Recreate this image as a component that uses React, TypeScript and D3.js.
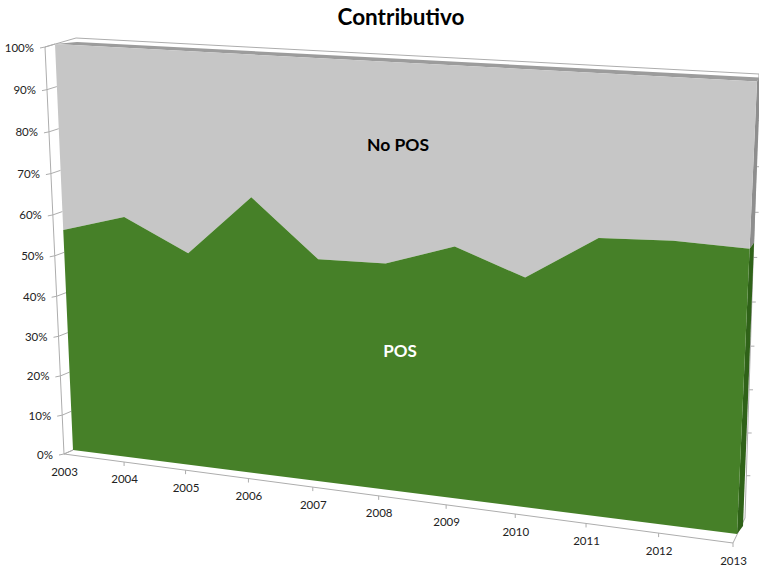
import React from "react";
import * as d3 from "d3";

const years = ["2003", "2004", "2005", "2006", "2007", "2008", "2009", "2010", "2011", "2012", "2013"];
const posShare = [55.5, 59.9, 52.5, 67.1, 53.8, 54.2, 59.5, 53.8, 64.1, 64.8, 64.4];
const percentTicks = [0, 10, 20, 30, 40, 50, 60, 70, 80, 90, 100];

type Pt = [number, number];

// Projective map of the unit square onto a quadrilateral: (0,0), (1,0), (1,1), (0,1).
function quadProjection(p0: Pt, p1: Pt, p2: Pt, p3: Pt) {
  const dx1 = p1[0] - p2[0], dx2 = p3[0] - p2[0], sx = p0[0] - p1[0] + p2[0] - p3[0];
  const dy1 = p1[1] - p2[1], dy2 = p3[1] - p2[1], sy = p0[1] - p1[1] + p2[1] - p3[1];
  const den = dx1 * dy2 - dx2 * dy1;
  const g = (sx * dy2 - dx2 * sy) / den;
  const h = (dx1 * sy - sx * dy1) / den;
  const a = p1[0] - p0[0] + g * p1[0], b = p3[0] - p0[0] + h * p3[0], c = p0[0];
  const d = p1[1] - p0[1] + g * p1[1], e = p3[1] - p0[1] + h * p3[1], f = p0[1];
  return (u: number, v: number): Pt => {
    const w = g * u + h * v + 1;
    return [(a * u + b * v + c) / w, (d * u + e * v + f) / w];
  };
}

// Depth planes of the 3-D box: axis plane, front and back of the area, rear wall.
const axisPlane = quadProjection([64, 454], [733, 543], [752, 87], [45, 47]);
const frontPlane = quadProjection([73, 450], [737, 534], [757, 81.5], [55, 44]);
const backPlane = quadProjection([94, 443], [743, 526], [760.5, 77.5], [77, 42]);
const wallPlane = quadProjection([96, 441], [745, 518], [759, 74], [76, 38]);

const u = d3.scalePoint<string>().domain(years).range([0, 1]);
const v = d3.scaleLinear().domain([0, 100]).range([0, 1]);

const path = d3.line<Pt>().curve(d3.curveLinearClosed);
const open = d3.line<Pt>();
const rows = years.map((y, i) => ({ year: y, u: u(y) as number, v: v(posShare[i]) }));
const lastV = rows[rows.length - 1].v;

const frontBoundary: Pt[] = rows.map((r) => frontPlane(r.u, r.v));

const font = "Lato, 'Open Sans', sans-serif";

export default function App() {
  const axisBase = axisPlane(0, 0);
  const axisEnd = axisPlane(1, 0);
  const axisTop = axisPlane(0, 1);
  return (
    <svg
      width={759}
      height={565}
      viewBox="0 0 759 565"
      style={{ position: "absolute", left: 0, top: 0, background: "#fff" }}
      fontFamily={font}
    >
      {/* walls and floor outline */}
      <g fill="none" stroke="#adadad" strokeWidth={1}>
        <path d={open([axisTop, axisBase, axisEnd])!} />
        <path d={open([axisBase, frontPlane(0, 0)])!} />
        <path d={open([axisEnd, wallPlane(1, 0), wallPlane(1, 1), wallPlane(0, 1), axisTop])!} />
        {percentTicks.map((t) => {
          const p = axisPlane(0, v(t));
          const q: Pt = [p[0] - 5, p[1] + 1];
          return <path key={t} d={open([q, p, frontPlane(0, v(t))])!} />;
        })}
        {percentTicks.slice(1).map((t) => {
          const p = wallPlane(1, v(t));
          return <path key={t} d={open([p, [p[0] + 4, p[1]]])!} />;
        })}
        {rows.slice(1).map((r) => {
          const p = axisPlane(r.u, 0);
          return <path key={r.year} d={open([p, [p[0], p[1] + 4]])!} />;
        })}
      </g>

      {/* top and right sides of the stacked areas */}
      <path d={path([frontPlane(0, 1), frontPlane(1, 1), backPlane(1, 1), backPlane(0, 1)])!} fill="#9c9c9c" />
      <path d={path([frontPlane(1, lastV), frontPlane(1, 1), backPlane(1, 1), backPlane(1, lastV)])!} fill="#8e8e8e" />
      <path d={path([frontPlane(1, 0), frontPlane(1, lastV), backPlane(1, lastV), backPlane(1, 0)])!} fill="#2f6218" />

      {/* front faces */}
      <path d={path([frontPlane(0, 1), frontPlane(1, 1), ...[...frontBoundary].reverse()])!} fill="#c6c6c6" />
      <path d={path([frontPlane(0, 0), frontPlane(1, 0), ...[...frontBoundary].reverse()])!} fill="#468028" />

      {/* value labels */}
      <g fontSize={11.5} fill="#222" textAnchor="end">
        {percentTicks.map((t) => {
          const p = axisPlane(0, v(t));
          return (
            <text key={t} x={p[0] - 11} y={p[1] + 4.5}>
              {t}%
            </text>
          );
        })}
      </g>
      {/* year labels */}
      <g fontSize={11.5} fill="#222" textAnchor="middle">
        {rows.map((r) => {
          const p = axisPlane(r.u, 0);
          return (
            <text key={r.year} x={p[0] + 0.5} y={p[1] + 21.5}>
              {r.year}
            </text>
          );
        })}
      </g>

      <text x={401} y={25} textAnchor="middle" fontSize={22.5} fontWeight={700} fill="#000">Contributivo</text>
      <text x={398} y={151} textAnchor="middle" fontSize={17.5} fontWeight={700} fill="#000">No POS</text>
      <text x={400} y={357} textAnchor="middle" fontSize={17} fontWeight={700} fill="#fff">POS</text>
    </svg>
  );
}
